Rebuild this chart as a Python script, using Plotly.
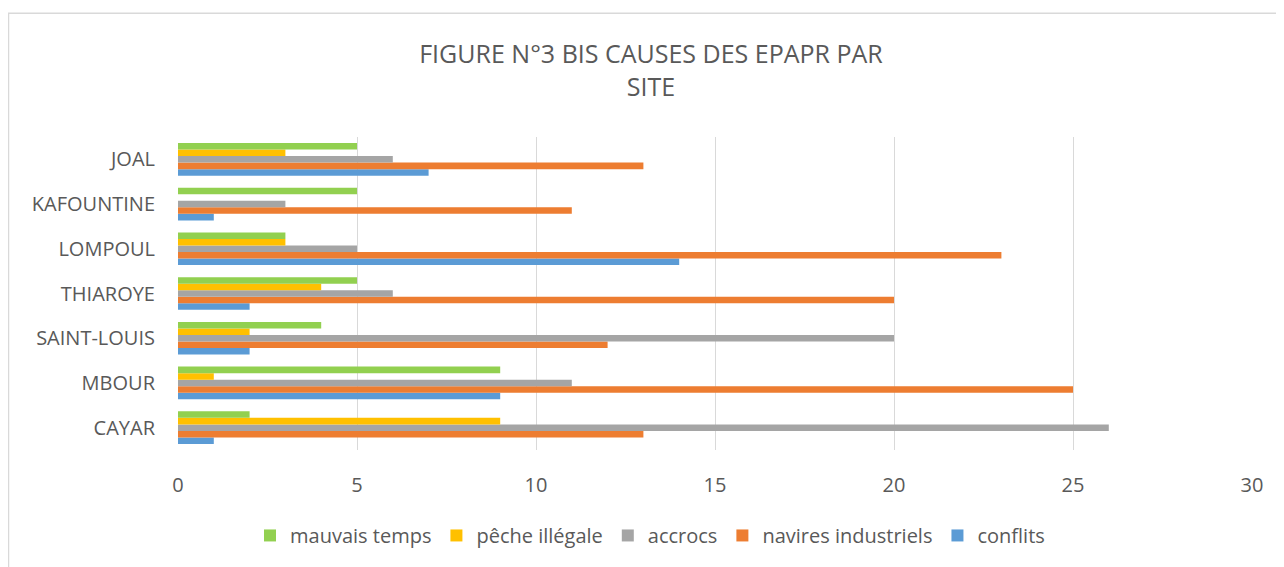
import plotly.graph_objects as go

sites = ["CAYAR", "MBOUR", "SAINT-LOUIS", "THIAROYE", "LOMPOUL", "KAFOUNTINE", "JOAL"]
conflits = [1, 9, 2, 2, 14, 1, 7]
navires_industriels = [13, 25, 12, 20, 23, 11, 13]
accrocs = [26, 11, 20, 6, 5, 3, 6]
peche_illegale = [9, 1, 2, 4, 3, 0, 3]
mauvais_temps = [2, 9, 4, 5, 3, 5, 5]

x_ticks = [0, 5, 10, 15, 20, 25, 30]

series = [
    ("conflits", conflits, "#5B9BD5"),
    ("navires industriels", navires_industriels, "#ED7D31"),
    ("accrocs", accrocs, "#A5A5A5"),
    ("pêche illégale", peche_illegale, "#FFC000"),
    ("mauvais temps", mauvais_temps, "#92D050"),
]

FONT = "Open Sans"
TXT = "#595959"

fig = go.Figure()
for name, vals, color in series:
    fig.add_trace(go.Bar(
        y=sites, x=vals, name=name, orientation="h",
        marker=dict(color=color, line=dict(width=0)),
    ))

# the page body adds an 8 px offset; work in screen pixels and subtract it
OFF = 8
W, H = 1284 - OFF, 567 - OFF
L, R, T, B = 178 - OFF, 1284 - 1252, 137 - OFF, 567 - 452
pw, ph = W - L - R, H - T - B

def px(xs):
    return (xs - OFF - L) / pw

def py(ys):
    return (H - B - (ys - OFF)) / ph

fig.update_layout(
    width=W, height=H,
    margin=dict(l=L, r=R, t=T, b=B, pad=0),
    paper_bgcolor="white", plot_bgcolor="white",
    barmode="group", bargap=0.27, bargroupgap=0.0,
    font=dict(family=FONT, color=TXT, size=20),
    title=dict(
        text="FIGURE N°3 BIS CAUSES DES EPAPR PAR<br>SITE",
        x=(651 - OFF) / W, xref="container", xanchor="center",
        y=1 - (63 - OFF) / H, yref="container", yanchor="middle",
        font=dict(family=FONT, size=25, color=TXT),
    ),
    xaxis=dict(
        range=[0, 30], tickvals=x_ticks, showgrid=True, gridcolor="#D9D9D9",
        gridwidth=1, zeroline=False, showline=False, ticks="",
        ticklabelstandoff=21, tickfont=dict(size=20, color=TXT, family=FONT),
    ),
    yaxis=dict(
        showgrid=False, zeroline=False, showline=False, ticks="",
        ticklabelstandoff=22, tickfont=dict(size=20, color=TXT, family=FONT),
    ),
    legend=dict(
        orientation="h", traceorder="reversed",
        x=px(650), xanchor="center", y=py(538), yanchor="middle",
        font=dict(size=20, color=TXT, family=FONT),
        itemwidth=30, bgcolor="rgba(0,0,0,0)",
    ),
    shapes=[dict(
        type="rect", xref="paper", yref="paper",
        x0=px(8.5), x1=px(1320), y0=py(620), y1=py(12.5),
        line=dict(color="#D9D9D9", width=1.5), fillcolor="rgba(0,0,0,0)",
        layer="below",
    )],
)

fig.write_html("out.html")
